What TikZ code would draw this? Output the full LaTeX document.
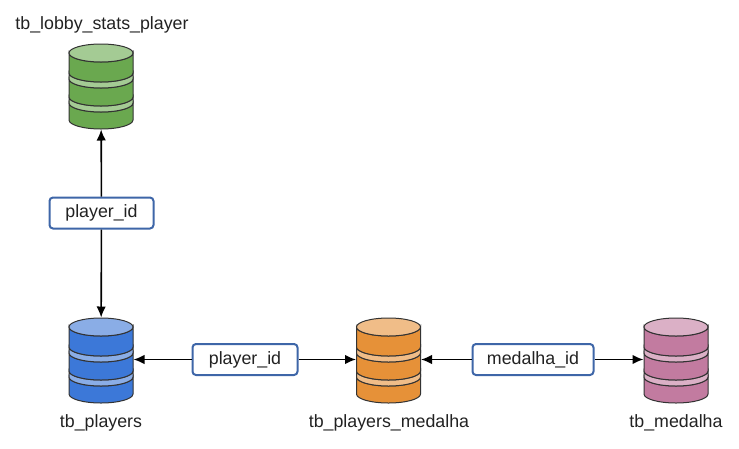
\documentclass[tikz,border=0pt]{standalone}
\usepackage{fontspec}
\setmainfont{Liberation Sans}
\usetikzlibrary{arrows.meta}
\definecolor{gM}{HTML}{6AA84F}\definecolor{gL}{HTML}{A4CB94}
\definecolor{bM}{HTML}{3C78D8}\definecolor{bL}{HTML}{8AADE6}
\definecolor{oM}{HTML}{E69138}\definecolor{oL}{HTML}{F0BD88}
\definecolor{pM}{HTML}{C27BA0}\definecolor{pL}{HTML}{DBB0C6}
\definecolor{keyblue}{HTML}{3E66A8}\definecolor{txt}{HTML}{222222}
\newcommand{\dbseg}[4]{% fill, cx, ytop side, ybottom side
  \filldraw[fill=#1,draw=black!80,line width=1pt] (#2-32,#3) -- (#2-32,#4) arc[start angle=180,end angle=360,x radius=32,y radius=9] -- (#2+32,#3) arc[start angle=0,end angle=-180,x radius=32,y radius=9] -- cycle;}
\newcommand{\db}[5]{% name, main, light, cx, ytop
  \node[dbhold] (#1) at (#4,-#5-42.5) {};
  \pgfmathsetmacro{\ya}{-#5-9}\pgfmathsetmacro{\yb}{-#5-29}\pgfmathsetmacro{\yc}{-#5-35}\pgfmathsetmacro{\yd}{-#5-53}\pgfmathsetmacro{\ye}{-#5-59}\pgfmathsetmacro{\yf}{-#5-76}
  \dbseg{#2}{#4}{\ye}{\yf}
  \dbseg{#3}{#4}{\yd}{\ye}
  \dbseg{#2}{#4}{\yc}{\yd}
  \dbseg{#3}{#4}{\yb}{\yc}
  \dbseg{#2}{#4}{\ya}{\yb}
  \filldraw[fill=#3,draw=black!80,line width=1pt] (#4,\ya) ellipse[x radius=32,y radius=9];}
\tikzset{
  x=1pt,y=1pt,
  dbhold/.style={minimum width=65pt,minimum height=86pt,inner sep=0pt,outer sep=0pt},
  keybox/.style={draw=keyblue,line width=2pt,rounded corners=3.5pt,fill=white,text=txt,minimum height=31pt,inner sep=0pt,font=\fontsize{17.8}{20}\selectfont},
  lbl/.style={text=txt,font=\fontsize{17.8}{20}\selectfont,inner sep=0pt},
  half/.style={draw=black,line width=1.6pt,-{Latex[length=11pt,width=9.5pt]}}
}
\begin{document}
\begin{tikzpicture}
\useasboundingbox (0,0) rectangle (739,-448);
\db{lobby}{gM}{gL}{101}{44}
\db{players}{bM}{bL}{101}{318}
\db{pm}{oM}{oL}{388.5}{318}
\db{med}{pM}{pL}{676}{318}
\node[lbl] (tl) at (102,-25) {tb\_lobby\_stats\_player};
\node[lbl] (tp) at (101,-423) {tb\_players};
\node[lbl] (tm) at (389,-423) {tb\_players\_medalha};
\node[lbl] (td) at (676,-423) {tb\_medalha};
\node[keybox,minimum width=104pt] (k1) at (101.5,-213) {player\_id};
\node[keybox,minimum width=105pt] (k2) at (245,-359.5) {player\_id};
\node[keybox,minimum width=121pt] (k3) at (533,-359.5) {medalha\_id};
\draw[half] (k1) -- (lobby);
\draw[half] (k1) -- (players);
\draw[half] (k2) -- (players.east |- k2);
\draw[half] (k2) -- (pm.west |- k2);
\draw[half] (k3) -- (pm.east |- k3);
\draw[half] (k3) -- (med.west |- k3);
\end{tikzpicture}
\end{document}
